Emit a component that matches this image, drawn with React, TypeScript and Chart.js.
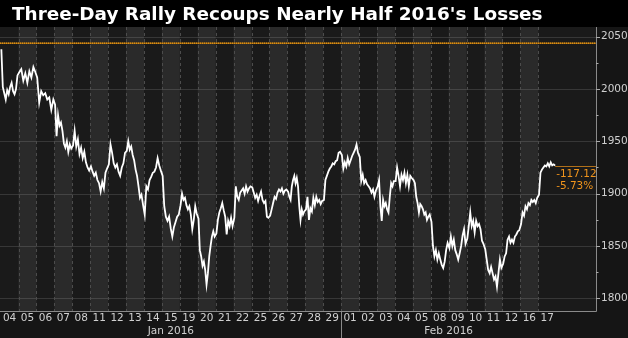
import React, { useEffect, useRef } from 'react';
import { Chart, registerables } from 'chart.js';

Chart.register(...registerables);

const title = "Three-Day Rally Recoups Nearly Half 2016's Losses";

const dayLabels = [
  '04', '05', '06', '07', '08', '11', '12', '13', '14', '15', '19', '20', '21', '22', '25', '26', '27', '28', '29',
  '01', '02', '03', '04', '05', '08', '09', '10', '11', '12', '16', '17',
];

const monthLabels = ['Jan 2016', 'Feb 2016'];
const monthFirstDay = [0, 19];

// intraday path of each session (index level), one row per trading day
const intraday: number[][] = [
  [2038, 2002, 1996, 1990, 1999, 1995, 2002, 2006, 1998, 1995, 2000, 2013],
  [2016, 2019, 2008, 2015, 2006, 2017, 2011, 2021, 2016],
  [2011, 1987, 1998, 1994, 1996, 1990, 1992, 1980, 1990],
  [1985, 1955, 1975, 1965, 1968, 1960, 1948, 1944, 1950, 1940, 1947, 1943],
  [1946, 1960, 1945, 1952, 1938, 1944, 1934, 1940, 1930, 1925, 1922],
  [1926, 1921, 1917, 1920, 1913, 1910, 1902, 1911, 1905, 1920, 1924],
  [1928, 1947, 1939, 1929, 1925, 1928, 1921, 1917, 1925, 1929, 1939],
  [1941, 1950, 1942, 1945, 1937, 1932, 1923, 1917, 1907, 1896, 1899, 1890],
  [1880, 1907, 1904, 1913, 1916, 1920, 1921, 1925, 1934, 1927, 1922],
  [1917, 1888, 1878, 1874, 1878, 1867, 1859, 1868, 1873, 1878, 1880],
  [1889, 1900, 1894, 1896, 1889, 1885, 1888, 1880, 1866, 1875, 1888, 1881],
  [1876, 1846, 1840, 1831, 1835, 1827, 1813, 1824, 1840, 1850, 1859, 1864, 1859],
  [1862, 1875, 1882, 1886, 1891, 1884, 1878, 1861, 1874, 1869, 1877, 1869],
  [1877, 1907, 1897, 1894, 1901, 1903, 1905, 1900, 1907, 1902, 1905, 1907],
  [1906, 1901, 1896, 1899, 1893, 1898, 1902, 1894, 1891, 1893, 1878, 1877],
  [1879, 1885, 1891, 1897, 1895, 1901, 1904, 1902, 1905, 1900, 1903, 1904],
  [1902, 1897, 1894, 1907, 1913, 1917, 1910, 1915, 1907, 1888, 1875, 1885, 1880, 1883],
  [1885, 1897, 1875, 1886, 1883, 1896, 1889, 1897, 1892, 1894, 1890, 1893],
  [1894, 1913, 1917, 1921, 1924, 1926, 1929, 1928, 1931, 1932, 1939, 1940],
  [1937, 1924, 1930, 1926, 1934, 1928, 1932, 1936, 1939, 1942, 1947, 1939],
  [1935, 1912, 1918, 1910, 1913, 1909, 1907, 1905, 1901, 1904, 1897, 1903],
  [1907, 1913, 1888, 1874, 1894, 1888, 1891, 1885, 1882, 1897, 1910, 1907, 1912],
  [1912, 1925, 1917, 1907, 1918, 1913, 1920, 1910, 1918, 1907, 1917, 1915],
  [1913, 1910, 1897, 1891, 1882, 1890, 1888, 1885, 1880, 1882, 1875, 1878, 1880],
  [1873, 1850, 1840, 1846, 1837, 1843, 1837, 1832, 1829, 1835, 1846, 1853],
  [1848, 1859, 1850, 1856, 1846, 1842, 1837, 1843, 1850, 1860, 1866, 1852],
  [1857, 1869, 1882, 1869, 1874, 1863, 1874, 1869, 1871, 1866, 1855, 1852],
  [1847, 1837, 1827, 1824, 1830, 1824, 1818, 1821, 1811, 1824, 1837, 1829],
  [1833, 1840, 1843, 1856, 1859, 1853, 1856, 1853, 1859, 1861, 1864, 1865],
  [1871, 1882, 1879, 1888, 1885, 1891, 1889, 1894, 1892, 1894, 1891, 1896],
  [1899, 1920, 1923, 1925, 1927, 1926, 1929, 1926, 1930, 1927, 1928, 1926.82],
];

const yTicks = [1800, 1850, 1900, 1950, 2000, 2050];
const yMinorTicks = [1825, 1875, 1925, 1975, 2025];
const prevClose = 2043.94;
const changeLabels = ['-117.12', '-5.73%'];

const X_MIN = -0.035;
const X_MAX = 33.22;
const Y_MIN = 1787.86;
const Y_MAX = 2059.27;

const AXIS_FONT = '"DejaVu Sans", sans-serif';

function buildPoints() {
  const pts: { x: number; y: number }[] = [];
  intraday.forEach((row, d) => {
    const n = row.length;
    row.forEach((v, k) => {
      pts.push({ x: d + 0.04 + (k * 0.9) / (n - 1), y: v });
    });
  });
  return pts;
}

const decorPlugin = {
  id: 'decor',
  beforeDraw(chart: any) {
    const ctx = chart.ctx as CanvasRenderingContext2D;
    const { left, right, top, bottom } = chart.chartArea;
    const xs = chart.scales.x;
    const ys = chart.scales.y;
    ctx.save();
    ctx.fillStyle = '#151515';
    ctx.fillRect(0, 0, chart.width, chart.height);
    ctx.fillStyle = '#000000';
    ctx.fillRect(0, 0, chart.width, top);
    ctx.fillStyle = '#1a1a1a';
    ctx.fillRect(left, top, right - left, bottom - top);
    ctx.fillStyle = '#2a2a2a';
    dayLabels.forEach((_, i) => {
      if (i % 2 === 1) {
        const x0 = xs.getPixelForValue(i);
        const x1 = xs.getPixelForValue(i + 1);
        ctx.fillRect(x0, top, x1 - x0, bottom - top);
      }
    });
    ctx.strokeStyle = 'rgba(255,255,255,0.13)';
    ctx.lineWidth = 1;
    yTicks.forEach((v) => {
      const y = Math.round(ys.getPixelForValue(v)) + 0.5;
      ctx.beginPath();
      ctx.moveTo(left, y);
      ctx.lineTo(right, y);
      ctx.stroke();
    });
    ctx.strokeStyle = '#4c4c4c';
    ctx.setLineDash([3, 3]);
    for (let i = 1; i < dayLabels.length; i++) {
      const x = Math.round(xs.getPixelForValue(i)) + 0.5;
      ctx.beginPath();
      ctx.moveTo(x, top);
      ctx.lineTo(x, bottom);
      ctx.stroke();
    }
    ctx.setLineDash([]);
    ctx.restore();
  },
  afterDatasetsDraw(chart: any) {
    const ctx = chart.ctx as CanvasRenderingContext2D;
    const { left, right, top, bottom } = chart.chartArea;
    const xs = chart.scales.x;
    const ys = chart.scales.y;
    ctx.save();
    // previous close dotted line
    const yp = Math.round(ys.getPixelForValue(prevClose));
    ctx.fillStyle = '#9a620c';
    ctx.fillRect(left, yp - 0.5, right - left, 1.5);
    ctx.fillStyle = '#d88e16';
    for (let x = Math.ceil(left); x < right; x += 2) {
      ctx.fillRect(x, yp - 0.5, 1, 1.5);
    }
    // last value level line
    const lastRow = intraday[intraday.length - 1];
    const lastVal = lastRow[lastRow.length - 1];
    const yl = Math.round(ys.getPixelForValue(lastVal)) + 0.5;
    const xl = xs.getPixelForValue(intraday.length - 1 + 0.94);
    ctx.strokeStyle = '#b0701a';
    ctx.lineWidth = 1;
    ctx.beginPath();
    ctx.moveTo(xl, yl);
    ctx.lineTo(right, yl);
    ctx.stroke();
    ctx.fillStyle = '#f0941c';
    ctx.font = `10.5px ${AXIS_FONT}`;
    ctx.textAlign = 'left';
    ctx.textBaseline = 'middle';
    ctx.fillText(changeLabels[0], xl + 1, yl + 7.5);
    ctx.fillText(changeLabels[1], xl + 1, yl + 20);
    // axis lines
    ctx.strokeStyle = '#8a8a8a';
    ctx.beginPath();
    ctx.moveTo(left, bottom + 0.5);
    ctx.lineTo(right + 0.5, bottom + 0.5);
    ctx.moveTo(right + 0.5, top);
    ctx.lineTo(right + 0.5, bottom + 0.5);
    ctx.stroke();
    ctx.strokeStyle = '#aaaaaa';
    yTicks.forEach((v) => {
      const y = Math.round(ys.getPixelForValue(v)) + 0.5;
      ctx.beginPath();
      ctx.moveTo(right, y);
      ctx.lineTo(right + 4, y);
      ctx.stroke();
    });
    yMinorTicks.forEach((v) => {
      const y = Math.round(ys.getPixelForValue(v)) + 0.5;
      ctx.beginPath();
      ctx.moveTo(right, y);
      ctx.lineTo(right + 2.5, y);
      ctx.stroke();
    });
    // month separator + labels
    const sepX = Math.round(xs.getPixelForValue(monthFirstDay[1])) + 0.5;
    ctx.strokeStyle = '#8a8a8a';
    ctx.beginPath();
    ctx.moveTo(sepX, bottom);
    ctx.lineTo(sepX, chart.height);
    ctx.stroke();
    ctx.fillStyle = '#d0d0d0';
    ctx.font = `10.5px ${AXIS_FONT}`;
    ctx.textAlign = 'center';
    monthLabels.forEach((m, i) => {
      const first = monthFirstDay[i];
      const last = i + 1 < monthFirstDay.length ? monthFirstDay[i + 1] : dayLabels.length;
      const cx = (xs.getPixelForValue(first) + xs.getPixelForValue(last)) / 2;
      ctx.fillText(m, cx, 331.5);
    });
    // title
    ctx.fillStyle = '#ffffff';
    ctx.font = 'bold 18.4px "DejaVu Sans", sans-serif';
    ctx.textAlign = 'left';
    ctx.textBaseline = 'alphabetic';
    ctx.fillText(title, 12, 19.5);
    ctx.restore();
  },
};

export default function App() {
  const ref = useRef<HTMLCanvasElement>(null);
  useEffect(() => {
    if (!ref.current) return;
    const chart = new Chart(ref.current, {
      type: 'line',
      data: {
        datasets: [
          {
            data: buildPoints(),
            borderColor: '#ffffff',
            borderWidth: 1.8,
            pointRadius: 0,
            tension: 0,
            fill: false,
          },
        ],
      },
      options: {
        responsive: false,
        animation: false,
        parsing: false as any,
        layout: { padding: { top: 27, left: 0, right: 0, bottom: 0 } },
        plugins: { legend: { display: false }, tooltip: { enabled: false }, title: { display: false } },
        scales: {
          x: {
            type: 'linear',
            min: X_MIN,
            max: X_MAX,
            grid: { display: false, drawTicks: false },
            border: { display: false },
            afterBuildTicks: (s: any) => {
              s.ticks = dayLabels.map((_, i) => ({ value: i + 0.5 }));
            },
            afterFit: (s: any) => {
              s.height = 27;
              s.paddingLeft = 0;
              s.paddingRight = 0;
            },
            ticks: {
              autoSkip: false,
              maxRotation: 0,
              minRotation: 0,
              padding: 1,
              color: '#d0d0d0',
              font: { family: AXIS_FONT, size: 10.5 },
              callback: (_v: any, i: number) => dayLabels[i],
            },
          },
          y: {
            type: 'linear',
            position: 'right',
            min: Y_MIN,
            max: Y_MAX,
            grid: { display: false, drawTicks: false },
            border: { display: false },
            afterBuildTicks: (s: any) => {
              s.ticks = yTicks.map((v) => ({ value: v }));
            },
            afterFit: (s: any) => {
              s.width = 32;
              s.paddingTop = 0;
              s.paddingBottom = 0;
            },
            ticks: {
              padding: 5,
              color: '#d0d0d0',
              font: { family: AXIS_FONT, size: 10.5 },
              callback: (v: any) => String(v),
            },
          },
        },
      },
      plugins: [decorPlugin],
    });
    return () => chart.destroy();
  }, []);
  return (
    <div style={{ position: 'absolute', left: 0, top: 0, width: 628, height: 338 }}>
      <canvas ref={ref} width={628} height={338} style={{ display: 'block' }} />
    </div>
  );
}
